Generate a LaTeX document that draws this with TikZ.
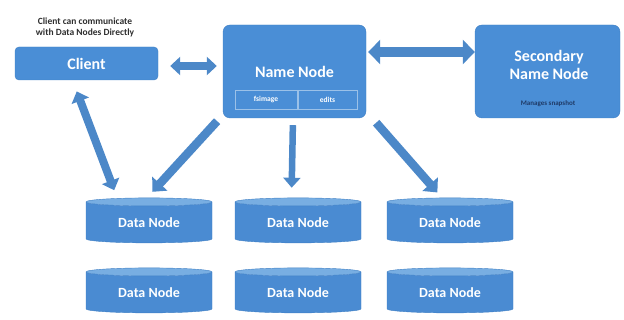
\documentclass[tikz,border=0pt]{standalone}
\usepackage{fontspec}
\setmainfont{Carlito}
\usetikzlibrary{arrows.meta,shapes.geometric,positioning}

\definecolor{nodeblue}{HTML}{4A8ED6}
\definecolor{nodeedge}{HTML}{3F7FC4}
\definecolor{diskbody}{HTML}{4A8BD2}
\definecolor{disktop}{HTML}{78AEE2}
\definecolor{arrowblue}{HTML}{4C88C8}
\definecolor{notegray}{HTML}{2E2E2E}
\definecolor{notenavy}{HTML}{1F3A66}

\begin{document}
\begin{tikzpicture}
    [x=1pt,y=-1pt,
    box/.style={rectangle,rounded corners=7pt,fill=nodeblue,draw=nodeedge,
    inner sep=0pt,text=white,font=\bfseries\fontsize{16}{18}\selectfont},
    subbox/.style={rectangle,draw=white!45!nodeblue,line width=0.4pt,
    inner sep=0pt,minimum height=19pt,text=white,font=\bfseries\fontsize{7.5}{8}\selectfont},
    disk/.style={cylinder,shape border rotate=90,aspect=0.13,
    cylinder uses custom fill,cylinder body fill=diskbody,cylinder end fill=disktop,
    draw=nodeedge,inner sep=0pt,minimum width=126pt,minimum height=45pt,
    text=white,font=\bfseries\fontsize{14}{16}\selectfont},
    flow/.style={draw=arrowblue,line width=8.5pt,
    -{Triangle[width=20pt,length=11pt]}},
    both/.style={draw=arrowblue,line width=8pt,
    {Triangle[width=18pt,length=10pt]}-{Triangle[width=18pt,length=10pt]}}]
    \useasboundingbox (0,0) rectangle (624,320);

    \node (note) [text=notegray,align=center,font=\bfseries\fontsize{9.5}{11}\selectfont]
        at (85,27) {Client can communicate\\with Data Nodes Directly};
    \node (client) [box,rounded corners=4pt,minimum width=143pt,minimum height=33pt]
        at (86.5,63.5) {Client};
    \node (name) [box,minimum width=143pt,minimum height=93pt] at (294.5,71.5) {Name Node};
    \node (fsimage) [subbox,minimum width=62pt] at (266,99.5) {fsimage};
    \node (edits) [subbox,minimum width=59pt] at (327.5,99.5) {edits};
    \node (secondary) [box,minimum width=145pt,minimum height=93pt] at (547.5,71.5) {};
    \node (secondary label) [text=white,align=center,
        font=\bfseries\fontsize{16}{18}\selectfont] at (549,65) {Secondary\\Name Node};
    \node (snapshot) [text=notenavy,font=\bfseries\fontsize{7}{8}\selectfont]
        at (548,104) {Manages snapshot};

    \node (data 1) [disk] at (149,222.5) {Data Node};
    \node (data 2) [disk] at (298,222.5) {Data Node};
    \node (data 3) [disk] at (450,222.5) {Data Node};
    \node (data 4) [disk] at (149,292.5) {Data Node};
    \node (data 5) [disk] at (298,292.5) {Data Node};
    \node (data 6) [disk] at (450,292.5) {Data Node};

    \draw [both,shorten <=12pt,shorten >=6pt]
        ([yshift=-2.5pt]client.east) -- ([yshift=-2.5pt]client.east -| name.west);
    \draw [both,line width=10pt,
        {Triangle[width=24pt,length=12pt]}-{Triangle[width=24pt,length=12pt]},
        shorten <=2pt,shorten >=0pt]
        ([yshift=19.5pt]name.east) -- ([yshift=19.5pt]name.east -| secondary.west);
    \draw [both,shorten <=12pt,shorten >=8pt]
        ([xshift=-14pt]client.south) -- ([xshift=-32pt]data 1.north);
    \draw [flow,shorten <=4pt,shorten >=8pt]
        ([xshift=-3pt]name.south west) -- ([xshift=-2pt]data 1.north);
    \draw [flow,line width=6.5pt,-{Triangle[width=17pt,length=10pt]},
        shorten <=7pt,shorten >=10pt]
        ([xshift=-1.5pt]name.south) -- ([xshift=-6.5pt]data 2.north);
    \draw [flow,shorten <=6pt,shorten >=7pt]
        ([xshift=6pt]name.south east) -- ([xshift=-8pt]data 3.north);
\end{tikzpicture}
\end{document}
